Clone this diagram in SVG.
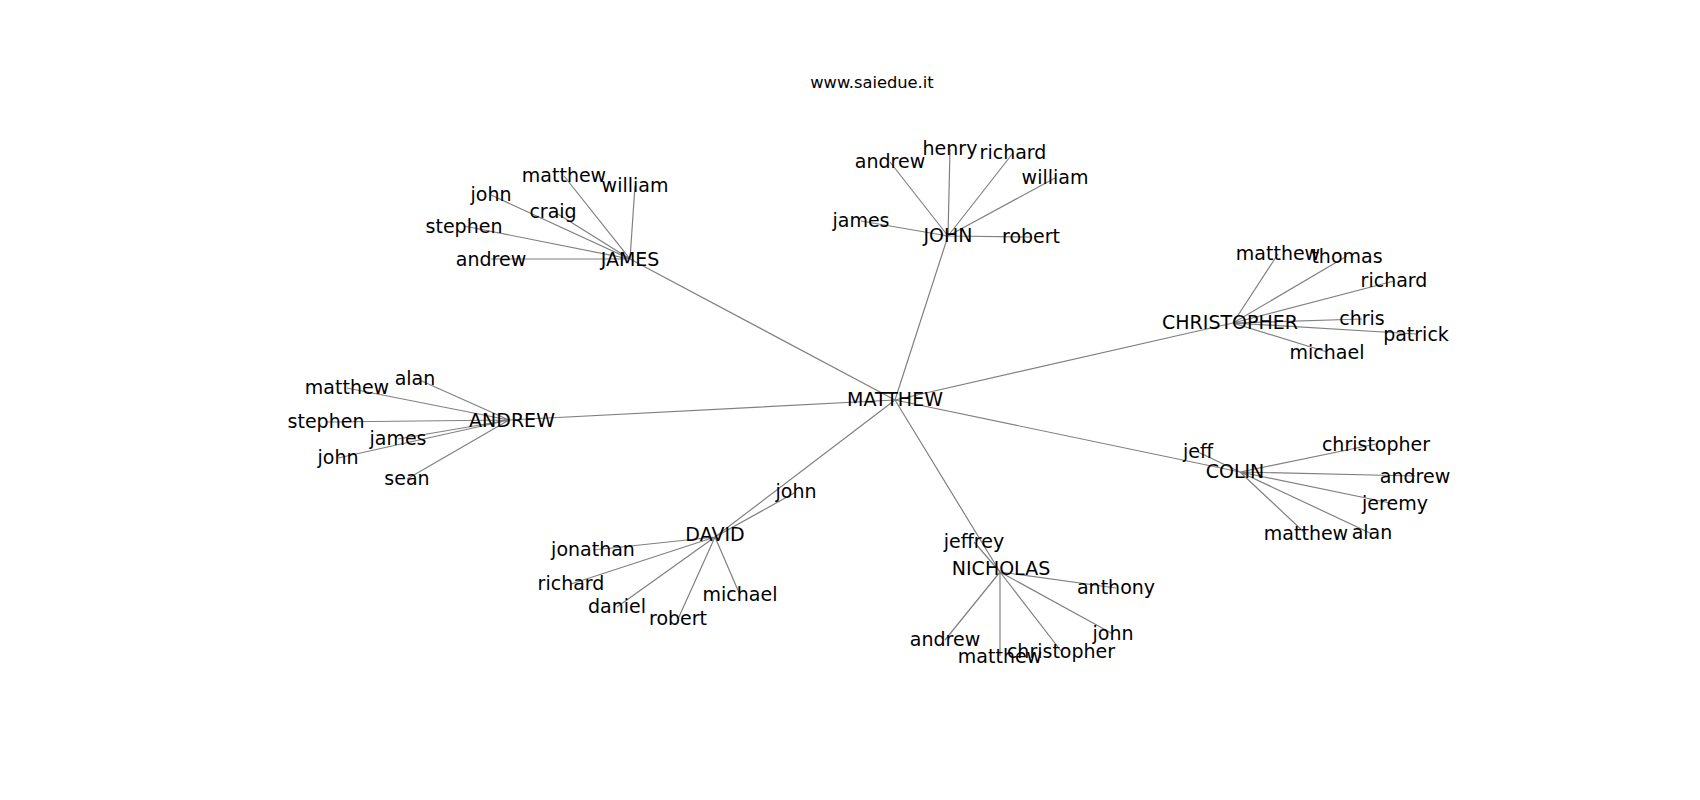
<svg xmlns="http://www.w3.org/2000/svg" width="1700" height="800" viewBox="0 0 1700 800">
<style>
.e{stroke:#808080;stroke-width:1.2;fill:none}
text{font-family:"DejaVu Sans","Liberation Sans",sans-serif;fill:#000;text-anchor:middle}
.n{font-size:19px}
.t{font-size:16.3px}
</style>
<rect width="1700" height="800" fill="#fff"/>
<text class="t" x="872" y="88">www.saiedue.it</text>
<g id="connectors">
<path class="e" d="M895,400L630,259M895,400L948,236M895,400L1233,323M895,400L509,420M895,400L1240,472M895,400L715,537M895,400L1000,572"/>
<path class="e" d="M630,259L564,176M630,259L635,186M630,259L491,195M630,259L553,211M630,259L464,226M630,259L491,259"/>
<path class="e" d="M948,236L950,149M948,236L1013,153M948,236L890,162M948,236L1055,178M948,236L861,221M948,236L1031,237"/>
<path class="e" d="M1233,323L1278,254M1233,323L1347,256M1233,323L1394,281M1233,323L1362,319M1233,323L1416,334M1233,323L1327,352"/>
<path class="e" d="M509,420L415,378M509,420L347,388M509,420L326,422M509,420L398,439M509,420L338,458M509,420L407,479"/>
<path class="e" d="M1240,472L1198,452M1240,472L1376,444M1240,472L1415,476M1240,472L1395,504M1240,472L1306,534M1240,472L1372,534"/>
<path class="e" d="M715,537L796,492M715,537L593,550M715,537L571,584M715,537L617,607M715,537L678,619M715,537L740,595"/>
<path class="e" d="M1000,572L974,542M1000,572L1116,588M1000,572L1113,634M1000,572L945,640M1000,572L1000,656M1000,572L1061,651"/>
</g>
<g id="n-MATTHEW"><text class="n" x="895" y="406">MATTHEW</text></g>
<g id="n-JAMES"><text class="n" x="630" y="266">JAMES</text></g>
<g id="n-JAMES-matthew"><text class="n" x="564" y="182">matthew</text></g>
<g id="n-JAMES-william"><text class="n" x="635" y="192">william</text></g>
<g id="n-JAMES-john"><text class="n" x="491" y="201">john</text></g>
<g id="n-JAMES-craig"><text class="n" x="553" y="218">craig</text></g>
<g id="n-JAMES-stephen"><text class="n" x="464" y="233">stephen</text></g>
<g id="n-JAMES-andrew"><text class="n" x="491" y="266">andrew</text></g>
<g id="n-JOHN"><text class="n" x="948" y="242">JOHN</text></g>
<g id="n-JOHN-henry"><text class="n" x="950" y="155">henry</text></g>
<g id="n-JOHN-richard"><text class="n" x="1013" y="159">richard</text></g>
<g id="n-JOHN-andrew"><text class="n" x="890" y="168">andrew</text></g>
<g id="n-JOHN-william"><text class="n" x="1055" y="184">william</text></g>
<g id="n-JOHN-james"><text class="n" x="861" y="227">james</text></g>
<g id="n-JOHN-robert"><text class="n" x="1031" y="243">robert</text></g>
<g id="n-CHRISTOPHER"><text class="n" x="1230" y="329">CHRISTOPHER</text></g>
<g id="n-CHRISTOPHER-matthew"><text class="n" x="1278" y="260">matthew</text></g>
<g id="n-CHRISTOPHER-thomas"><text class="n" x="1347" y="263">thomas</text></g>
<g id="n-CHRISTOPHER-richard"><text class="n" x="1394" y="287">richard</text></g>
<g id="n-CHRISTOPHER-chris"><text class="n" x="1362" y="325">chris</text></g>
<g id="n-CHRISTOPHER-patrick"><text class="n" x="1416" y="341">patrick</text></g>
<g id="n-CHRISTOPHER-michael"><text class="n" x="1327" y="359">michael</text></g>
<g id="n-ANDREW"><text class="n" x="512" y="427">ANDREW</text></g>
<g id="n-ANDREW-alan"><text class="n" x="415" y="385">alan</text></g>
<g id="n-ANDREW-matthew"><text class="n" x="347" y="394">matthew</text></g>
<g id="n-ANDREW-stephen"><text class="n" x="326" y="428">stephen</text></g>
<g id="n-ANDREW-james"><text class="n" x="398" y="445">james</text></g>
<g id="n-ANDREW-john"><text class="n" x="338" y="464">john</text></g>
<g id="n-ANDREW-sean"><text class="n" x="407" y="485">sean</text></g>
<g id="n-COLIN"><text class="n" x="1235" y="478">COLIN</text></g>
<g id="n-COLIN-jeff"><text class="n" x="1198" y="458">jeff</text></g>
<g id="n-COLIN-christopher"><text class="n" x="1376" y="451">christopher</text></g>
<g id="n-COLIN-andrew"><text class="n" x="1415" y="483">andrew</text></g>
<g id="n-COLIN-jeremy"><text class="n" x="1395" y="510">jeremy</text></g>
<g id="n-COLIN-matthew"><text class="n" x="1306" y="540">matthew</text></g>
<g id="n-COLIN-alan"><text class="n" x="1372" y="539">alan</text></g>
<g id="n-DAVID"><text class="n" x="715" y="541">DAVID</text></g>
<g id="n-DAVID-john"><text class="n" x="796" y="498">john</text></g>
<g id="n-DAVID-jonathan"><text class="n" x="593" y="556">jonathan</text></g>
<g id="n-DAVID-richard"><text class="n" x="571" y="590">richard</text></g>
<g id="n-DAVID-daniel"><text class="n" x="617" y="613">daniel</text></g>
<g id="n-DAVID-robert"><text class="n" x="678" y="625">robert</text></g>
<g id="n-DAVID-michael"><text class="n" x="740" y="601">michael</text></g>
<g id="n-NICHOLAS"><text class="n" x="1001" y="575">NICHOLAS</text></g>
<g id="n-NICHOLAS-jeffrey"><text class="n" x="974" y="548">jeffrey</text></g>
<g id="n-NICHOLAS-anthony"><text class="n" x="1116" y="594">anthony</text></g>
<g id="n-NICHOLAS-john"><text class="n" x="1113" y="640">john</text></g>
<g id="n-NICHOLAS-andrew"><text class="n" x="945" y="646">andrew</text></g>
<g id="n-NICHOLAS-matthew"><text class="n" x="1000" y="663">matthew</text></g>
<g id="n-NICHOLAS-christopher"><text class="n" x="1061" y="658">christopher</text></g>
</svg>
